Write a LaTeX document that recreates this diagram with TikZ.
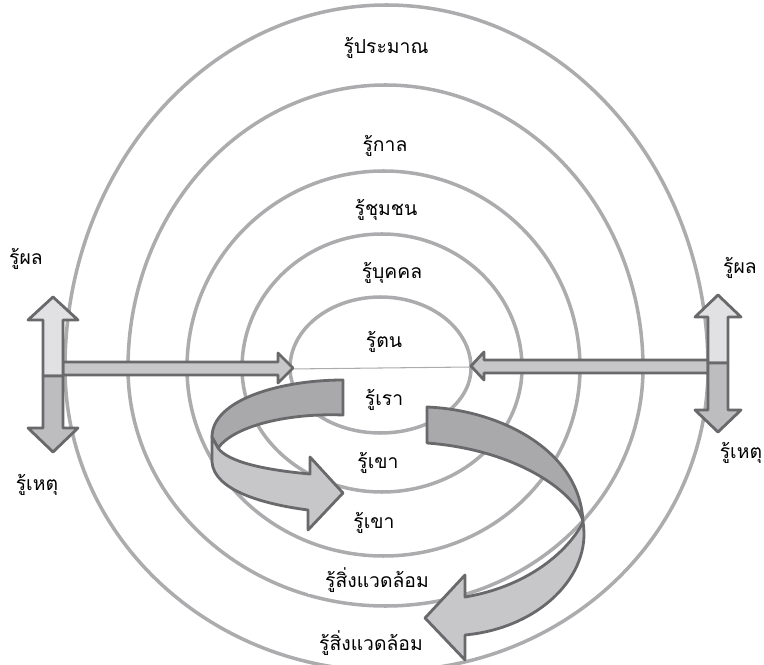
\documentclass[tikz,border=0pt]{standalone}
\usepackage{fontspec}
\newfontfamily\thaifont[Script=Thai]{Loma}
\definecolor{ringgray}{HTML}{ACACAF}
\definecolor{edgegray}{HTML}{69696B}
\definecolor{lightfill}{HTML}{E1E1E3}
\definecolor{midfill}{HTML}{C7C7C9}
\definecolor{lowfill}{HTML}{BDBDBF}
\definecolor{darkfill}{HTML}{A9A9AB}

\begin{document}
\begin{tikzpicture}[x=0.02cm,y=-0.02cm,line join=round,
    ring/.style={ringgray,line width=2pt},
    band/.style={draw=edgegray,line width=1.6pt},
    lbl/.style={font=\thaifont\fontsize{11}{13}\selectfont,inner sep=1pt},
    lblbox/.style={lbl,fill=white,inner xsep=10pt}]

    \useasboundingbox (0,0) rectangle (764,665);

    % draw the rings (upper and lower halves)
    \foreach \cx/\rx/\ryt/\ryb in {380.5/90.5/71/65, 382/140/134/124, 383.5/196.5/197/188, 385.5/257.5/283/238, 386.5/321.5/363/303}{
        \draw[ring] (\cx-\rx,368) arc[start angle=180,end angle=0,x radius=\rx*0.02cm,y radius=\ryt*0.02cm];
        \draw[ring] (\cx-\rx,368) arc[start angle=180,end angle=360,x radius=\rx*0.02cm,y radius=\ryb*0.02cm];
    }

    % split of the inner ring
    \draw[ringgray,line width=0.6pt] (290,369) -- (471,367);

    % labels of the rings
    \node[lbl] (pramarn) at (386,48) {รู้ประมาณ};
    \node[lbl] (kan) at (385,146) {รู้กาล};
    \node[lbl] (chumchon) at (386,210) {รู้ชุมชน};
    \node[lbl] (bukkhon) at (392,273) {รู้บุคคล};
    \node[lbl] (ton) at (384,342) {รู้ตน};
    \node[lbl] (rao) at (384,400) {รู้เรา};
    \node[lbl] (khaoa) at (378,463) {รู้เขา};
    \node[lbl] (khaob) at (374,523) {รู้เขา};
    \node[lblbox] (waetloma) at (377,580) {รู้สิ่งแวดล้อม};
    \node[lblbox] (waetlomb) at (371,643) {รู้สิ่งแวดล้อม};

    % side labels
    \node[lbl] (phonl) at (26,259) {รู้ผล};
    \node[lbl] (hetl) at (37,485) {รู้เหตุ};
    \node[lbl] (phonr) at (740,268) {รู้ผล};
    \node[lbl] (hetr) at (741,453) {รู้เหตุ};

    % horizontal arrows
    \filldraw[band,fill=midfill] (63,362) -- (278,362) -- (278,353) -- (293,368) -- (278,383) -- (278,375) -- (63,375) -- cycle;
    \filldraw[band,fill=midfill] (708,360) -- (484,360) -- (484,352) -- (471,366) -- (484,380) -- (484,373) -- (708,373) -- cycle;

    % double arrows, left
    \filldraw[band,fill=lightfill] (43,376) -- (43,320) -- (28,320) -- (53,297) -- (78,320) -- (63,320) -- (63,376) -- cycle;
    \filldraw[band,fill=lowfill] (43,376) -- (43,428) -- (28,428) -- (53,452) -- (78,428) -- (63,428) -- (63,376) -- cycle;
    % double arrows, right
    \filldraw[band,fill=lightfill] (708,363) -- (708,317) -- (695,317) -- (718,295) -- (741,317) -- (728,317) -- (728,363) -- cycle;
    \filldraw[band,fill=lowfill] (708,363) -- (708,410) -- (695,410) -- (718,432) -- (741,410) -- (728,410) -- (728,363) -- cycle;

    % small turn: back then front
    \filldraw[band,fill=darkfill] (343,380) .. controls (280,380) and (212,400) .. (212,437) -- (218,448) .. controls (235,425) and (290,413) .. (343,415) -- cycle;
    \filldraw[band,fill=midfill] (212,437) -- (212,462) .. controls (214,490) and (262,504) .. (308,510) -- (308,530) -- (343,493) -- (310,457) -- (310,474) .. controls (265,470) and (228,462) .. (218,448) -- cycle;

    % big turn: back then front
    \filldraw[band,fill=darkfill] (427,407) .. controls (500,410) and (580,450) .. (583,522) .. controls (578,495) and (520,450) .. (427,443) -- cycle;
    \filldraw[band,fill=midfill] (583,522) .. controls (592,575) and (540,628) .. (465,635) -- (465,660) -- (425,618) -- (465,575) -- (465,597) .. controls (535,585) and (572,545) .. (583,522) -- cycle;
\end{tikzpicture}
\end{document}
